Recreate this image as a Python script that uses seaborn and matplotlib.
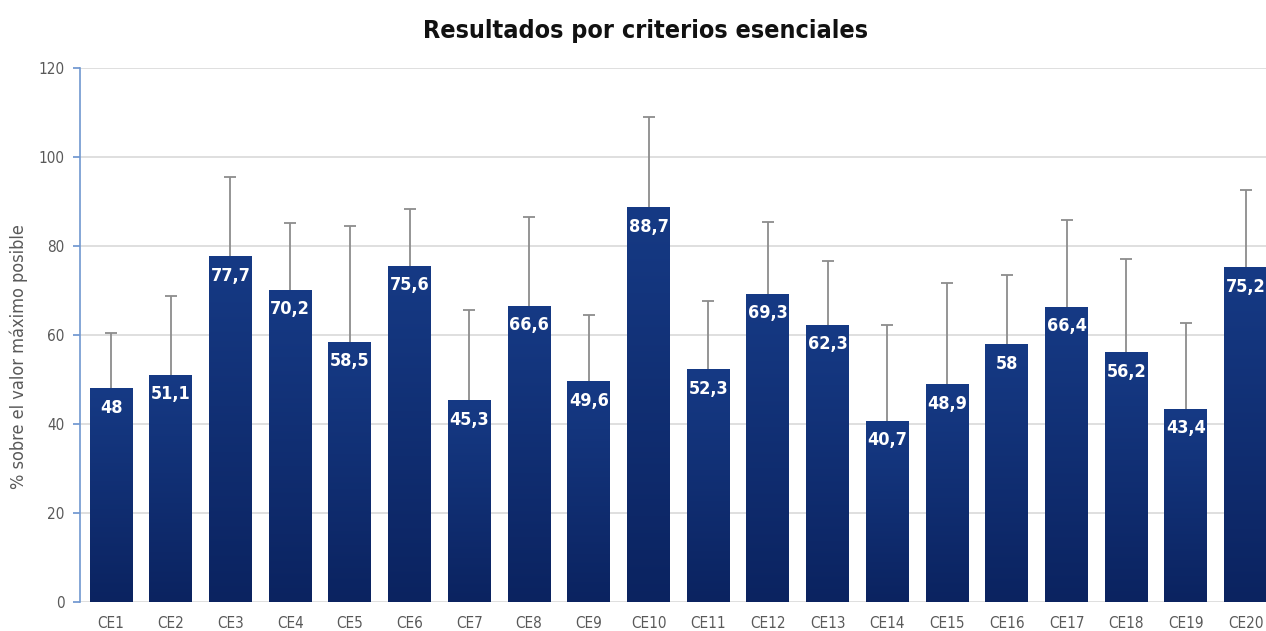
import numpy as np
import pandas as pd
import seaborn as sns
import matplotlib.pyplot as plt
from matplotlib.colors import LinearSegmentedColormap

# data
criterios = ["CE1", "CE2", "CE3", "CE4", "CE5", "CE6", "CE7", "CE8", "CE9", "CE10",
             "CE11", "CE12", "CE13", "CE14", "CE15", "CE16", "CE17", "CE18", "CE19", "CE20"]
valores = [48, 51.1, 77.7, 70.2, 58.5, 75.6, 45.3, 66.6, 49.6, 88.7,
           52.3, 69.3, 62.3, 40.7, 48.9, 58, 66.4, 56.2, 43.4, 75.2]
error_sup = [12.5, 17.6, 17.8, 15.1, 26.0, 12.7, 20.3, 19.9, 14.8, 20.3,
             15.4, 16.1, 14.3, 21.6, 22.7, 15.5, 19.5, 20.9, 19.2, 17.5]
etiquetas = ["48", "51,1", "77,7", "70,2", "58,5", "75,6", "45,3", "66,6", "49,6", "88,7",
             "52,3", "69,3", "62,3", "40,7", "48,9", "58", "66,4", "56,2", "43,4", "75,2"]

df = pd.DataFrame({"criterio": criterios, "valor": valores})

sns.set_theme(style="white")
plt.rcParams["font.family"] = ["DejaVu Sans"]
plt.rcParams["font.stretch"] = "condensed"

fig = plt.figure(figsize=(12.66, 6.31), dpi=100)
ax = fig.add_axes([0.0632, 0.046, 0.9368, 0.846])

sns.barplot(data=df, x="criterio", y="valor", color="#15387f", width=0.72,
            errorbar=None, ax=ax, zorder=2)

# vertical gradient on every bar
cmap = LinearSegmentedColormap.from_list("azul", ["#0b2360", "#163a85"])
grad = np.linspace(0, 1, 256).reshape(-1, 1)
for p in ax.patches:
    x0, y0 = p.get_x(), p.get_y()
    w, h = p.get_width(), p.get_height()
    im = ax.imshow(grad, cmap=cmap, origin="lower", aspect="auto",
                   extent=[x0, x0 + w, y0, y0 + h], zorder=2)
    im.set_clip_path(p)
    p.set_alpha(0)

xs = np.arange(len(criterios))
eb = ax.errorbar(xs, valores, yerr=[np.zeros(len(valores)), error_sup], fmt="none",
                 ecolor="#8c8c8c", elinewidth=1.3, capsize=4, capthick=1.3, zorder=3)
# only the upper cap is shown
eb.lines[1][0].set_visible(False)

for x, v, t in zip(xs, valores, etiquetas):
    ax.text(x, v - 4.4, t, ha="center", va="center", color="white",
            fontsize=13, fontweight="bold", zorder=4)

ax.set_xlim(-0.52, 19.34)
ax.set_ylim(0, 120)
ax.set_yticks(range(0, 121, 20))
ax.yaxis.grid(True, color="#d9d9d9", linewidth=1.2, zorder=0)
ax.set_axisbelow(True)

for s in ["top", "right", "bottom"]:
    ax.spines[s].set_visible(False)
ax.spines["left"].set_color("#6f97d0")
ax.spines["left"].set_linewidth(1.2)
ax.tick_params(axis="y", which="both", left=True, length=5, color="#6f97d0",
               labelsize=11, labelcolor="#595959", pad=6)
ax.tick_params(axis="x", bottom=False, labelsize=11, labelcolor="#595959", pad=4)

ax.set_xlabel("")
ax.set_ylabel("% sobre el valor máximo posible", fontsize=13, color="#595959")
ax.yaxis.set_label_coords(-0.044, 0.459)
fig.suptitle("Resultados por criterios esenciales", y=0.97, x=0.51,
             fontsize=18, fontweight="bold", color="#111111")

fig.savefig("out.png", dpi=100)
